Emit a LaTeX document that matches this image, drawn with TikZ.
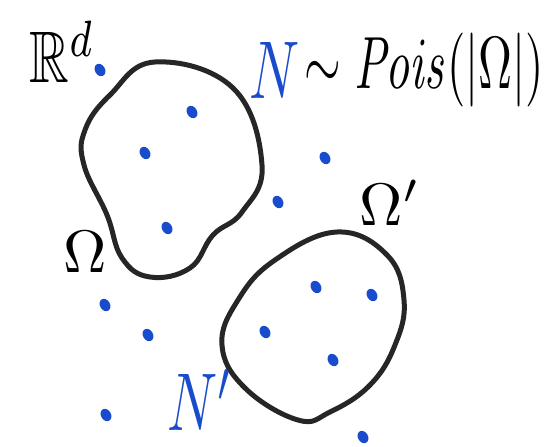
\documentclass[tikz,border=0pt]{standalone}
\usepackage{amsmath,amssymb}
\usepackage{graphicx}
\usetikzlibrary{positioning}
\definecolor{dotblue}{RGB}{25,75,205}
\tikzset{
  hand/.style={inner sep=0pt},
  blob/.style={line width=5pt, line join=round, black!85}
}
\begin{document}
\begin{tikzpicture}[x=1pt, y=-1pt]
  \useasboundingbox (0,0) rectangle (547,447);

  % region Omega
  \draw[blob] plot[smooth cycle, tension=0.7] coordinates {
    (155,62) (233,88) (262,165) (242,212) (213,235) (190,268)
    (150,277) (122,258) (107,215) (84,165) (85,130) (110,95)};

  % region Omega'
  \draw[blob] plot[smooth cycle, tension=0.7] coordinates {
    (337,232) (387,255) (404,300) (395,345) (370,385) (330,412)
    (298,420) (245,388) (222,345) (238,300) (275,260)};

  % Poisson points
  \foreach \px/\py in {100/70, 192/112, 145/153, 167/228, 325/158, 278/202,
      316/287, 372/295, 265/332, 333/360, 363/437, 105/305, 148/335, 106/415}
    \fill[dotblue, rotate around={30:(\px,\py)}] (\px,\py) ellipse (5pt and 6.5pt);

  % labels
  \node[hand] (space) at (62,52) {\scalebox{5.5}[7.3]{$\mathbb{R}^d$}};
  \node[hand] (omega) at (85,252) {\scalebox{6}{$\Omega$}};
  \node[hand] (omegap) at (390,203) {\scalebox{6}{$\Omega'$}};
  \node[hand, text=dotblue] (count) at (275,70) {\scalebox{5.5}[8.2]{$N$}};
  \node[hand, right=4pt of count] (law)
    {\scalebox{4.7}[7.4]{$\sim \mathit{Pois}(|\Omega|)$}};
  \node[hand, text=dotblue] (countp) at (200,400) {\scalebox{5.5}[8.2]{$N'$}};
\end{tikzpicture}
\end{document}
